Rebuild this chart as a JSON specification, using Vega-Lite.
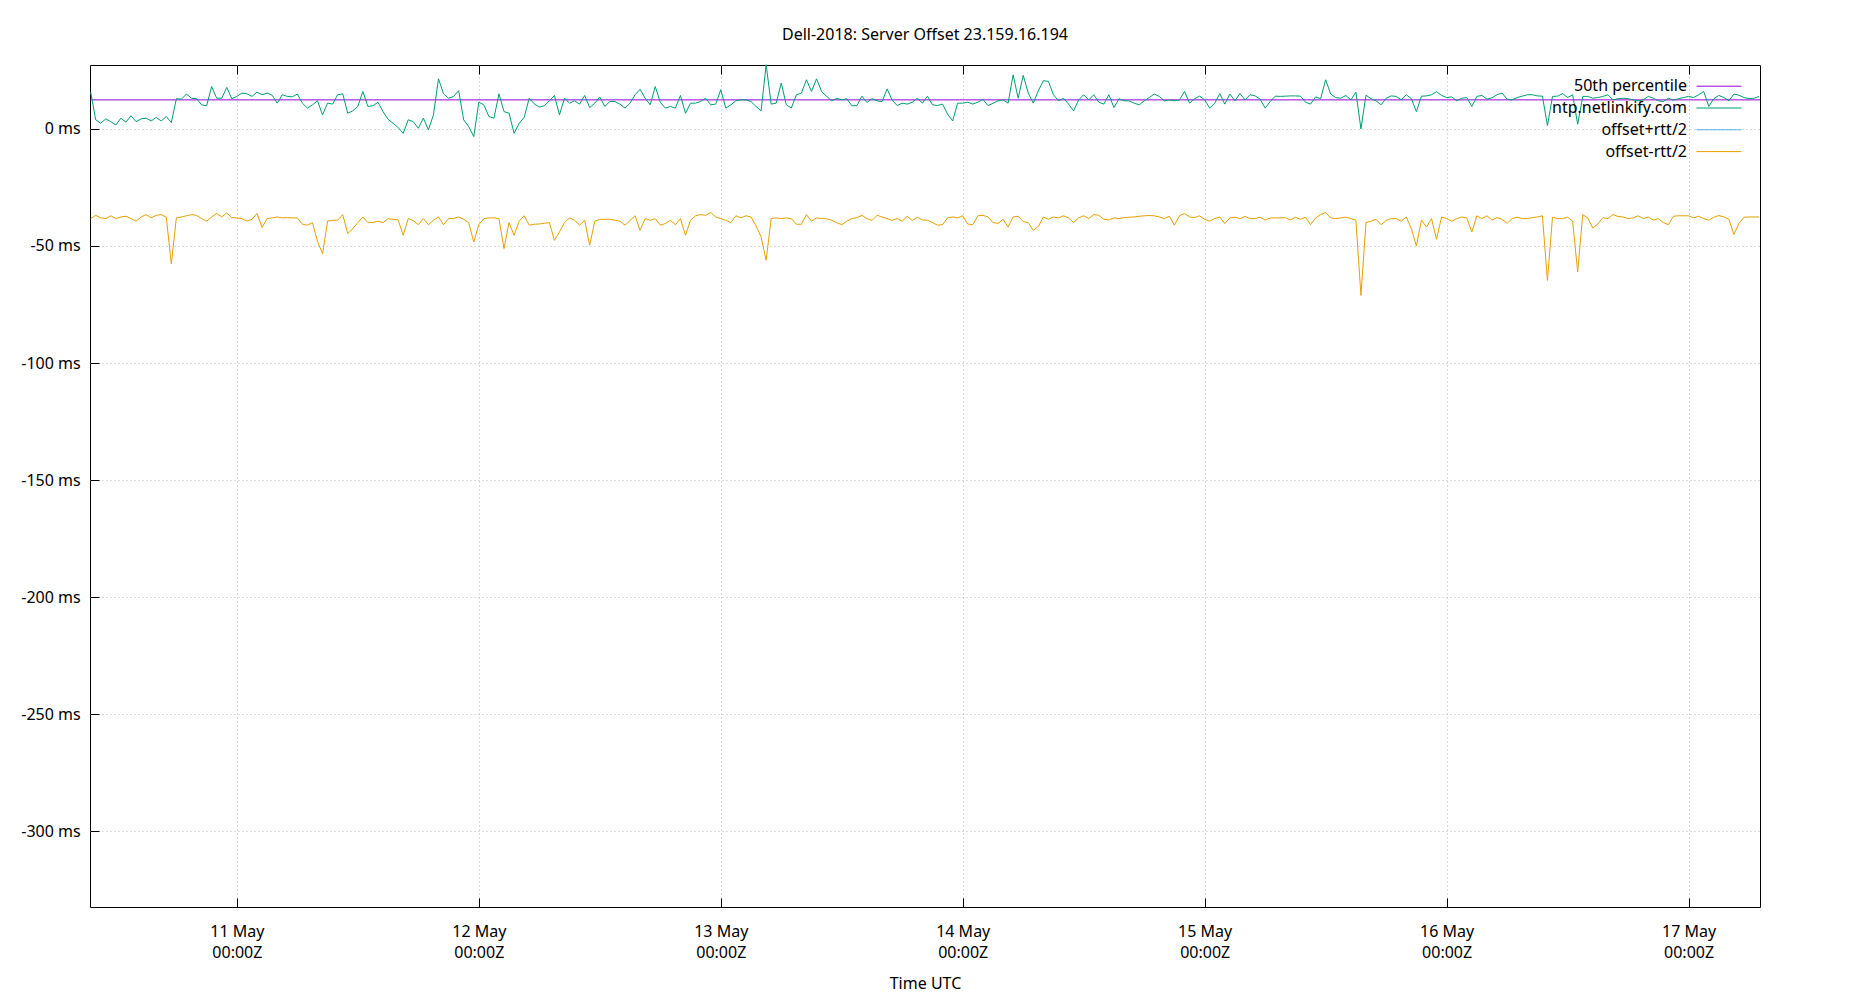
{
"$schema": "https://vega.github.io/schema/vega-lite/v6.json",
"autosize": {"type": "none"},
"padding": {"left": 90, "top": 65, "right": 90, "bottom": 93},
"width": 1670,
"height": 842,
"background": "white",
"title": {"text": "Dell-2018: Server Offset 23.159.16.194", "anchor": "middle", "font": "Noto Sans", "fontSize": 16, "fontWeight": "normal", "color": "black", "offset": 20},
"datasets": {
"p50": [{"p": 12.4}],
"samples": [
{"t":"2024-05-10T09:30Z","g":15.7,"o":-38.3},
{"t":"2024-05-10T10:00Z","g":3.9,"o":-36.9},
{"t":"2024-05-10T10:30Z","g":2.4,"o":-38.0},
{"t":"2024-05-10T11:00Z","g":4.3,"o":-38.3},
{"t":"2024-05-10T11:30Z","g":3.1,"o":-37.1},
{"t":"2024-05-10T12:00Z","g":1.7,"o":-38.3},
{"t":"2024-05-10T12:30Z","g":4.6,"o":-37.6},
{"t":"2024-05-10T13:00Z","g":2.9,"o":-37.3},
{"t":"2024-05-10T13:30Z","g":5.6,"o":-38.3},
{"t":"2024-05-10T14:00Z","g":3.1,"o":-39.4},
{"t":"2024-05-10T14:30Z","g":4.3,"o":-37.6},
{"t":"2024-05-10T15:00Z","g":4.6,"o":-36.6},
{"t":"2024-05-10T15:30Z","g":3.4,"o":-38.0},
{"t":"2024-05-10T16:00Z","g":4.9,"o":-36.9},
{"t":"2024-05-10T16:30Z","g":3.4,"o":-36.6},
{"t":"2024-05-10T17:00Z","g":5.3,"o":-37.7},
{"t":"2024-05-10T17:30Z","g":2.7,"o":-57.6},
{"t":"2024-05-10T18:00Z","g":12.9,"o":-38.0},
{"t":"2024-05-10T18:30Z","g":12.7,"o":-37.6},
{"t":"2024-05-10T19:00Z","g":14.9,"o":-37.1},
{"t":"2024-05-10T19:30Z","g":13.1,"o":-36.6},
{"t":"2024-05-10T20:00Z","g":12.9,"o":-36.9},
{"t":"2024-05-10T20:30Z","g":10.3,"o":-38.3},
{"t":"2024-05-10T21:00Z","g":9.9,"o":-39.4},
{"t":"2024-05-10T21:30Z","g":18.1,"o":-37.6},
{"t":"2024-05-10T22:00Z","g":13.1,"o":-36.1},
{"t":"2024-05-10T22:30Z","g":13.1,"o":-37.6},
{"t":"2024-05-10T23:00Z","g":17.7,"o":-35.9},
{"t":"2024-05-10T23:30Z","g":12.9,"o":-37.9},
{"t":"2024-05-11T00:00Z","g":13.9,"o":-38.0},
{"t":"2024-05-11T00:30Z","g":15.3,"o":-38.3},
{"t":"2024-05-11T01:00Z","g":15.0,"o":-39.4},
{"t":"2024-05-11T01:30Z","g":13.9,"o":-38.6},
{"t":"2024-05-11T02:00Z","g":15.7,"o":-36.1},
{"t":"2024-05-11T02:30Z","g":14.6,"o":-42.1},
{"t":"2024-05-11T03:00Z","g":15.3,"o":-38.3},
{"t":"2024-05-11T03:30Z","g":14.4,"o":-38.0},
{"t":"2024-05-11T04:00Z","g":11.0,"o":-37.6},
{"t":"2024-05-11T04:30Z","g":14.6,"o":-38.0},
{"t":"2024-05-11T05:00Z","g":13.9,"o":-37.9},
{"t":"2024-05-11T05:30Z","g":13.7,"o":-38.0},
{"t":"2024-05-11T06:00Z","g":14.9,"o":-38.0},
{"t":"2024-05-11T06:30Z","g":11.0,"o":-40.7},
{"t":"2024-05-11T07:00Z","g":8.9,"o":-41.1},
{"t":"2024-05-11T07:30Z","g":10.3,"o":-40.0},
{"t":"2024-05-11T08:00Z","g":12.0,"o":-48.0},
{"t":"2024-05-11T08:30Z","g":6.0,"o":-53.3},
{"t":"2024-05-11T09:00Z","g":11.0,"o":-39.4},
{"t":"2024-05-11T09:30Z","g":10.6,"o":-39.0},
{"t":"2024-05-11T10:00Z","g":14.6,"o":-39.0},
{"t":"2024-05-11T10:30Z","g":15.0,"o":-36.6},
{"t":"2024-05-11T11:00Z","g":6.7,"o":-44.7},
{"t":"2024-05-11T11:30Z","g":7.7,"o":-42.6},
{"t":"2024-05-11T12:00Z","g":9.6,"o":-40.0},
{"t":"2024-05-11T12:30Z","g":16.0,"o":-37.6},
{"t":"2024-05-11T13:00Z","g":9.6,"o":-40.0},
{"t":"2024-05-11T13:30Z","g":9.9,"o":-40.0},
{"t":"2024-05-11T14:00Z","g":11.4,"o":-39.4},
{"t":"2024-05-11T14:30Z","g":7.4,"o":-40.0},
{"t":"2024-05-11T15:00Z","g":4.1,"o":-38.3},
{"t":"2024-05-11T15:30Z","g":2.4,"o":-38.6},
{"t":"2024-05-11T16:00Z","g":0.6,"o":-38.9},
{"t":"2024-05-11T16:30Z","g":-1.9,"o":-45.4},
{"t":"2024-05-11T17:00Z","g":3.9,"o":-38.3},
{"t":"2024-05-11T17:30Z","g":3.1,"o":-39.1},
{"t":"2024-05-11T18:00Z","g":0.3,"o":-40.9},
{"t":"2024-05-11T18:30Z","g":4.6,"o":-38.3},
{"t":"2024-05-11T19:00Z","g":-0.4,"o":-40.9},
{"t":"2024-05-11T19:30Z","g":6.0,"o":-39.0},
{"t":"2024-05-11T20:00Z","g":21.4,"o":-37.6},
{"t":"2024-05-11T20:30Z","g":15.0,"o":-40.9},
{"t":"2024-05-11T21:00Z","g":13.1,"o":-38.3},
{"t":"2024-05-11T21:30Z","g":13.9,"o":-38.3},
{"t":"2024-05-11T22:00Z","g":16.3,"o":-37.6},
{"t":"2024-05-11T22:30Z","g":3.9,"o":-38.6},
{"t":"2024-05-11T23:00Z","g":1.0,"o":-40.0},
{"t":"2024-05-11T23:30Z","g":-3.3,"o":-48.3},
{"t":"2024-05-12T00:00Z","g":11.4,"o":-40.9},
{"t":"2024-05-12T00:30Z","g":10.3,"o":-38.3},
{"t":"2024-05-12T01:00Z","g":5.3,"o":-38.0},
{"t":"2024-05-12T01:30Z","g":4.6,"o":-38.0},
{"t":"2024-05-12T02:00Z","g":15.0,"o":-38.3},
{"t":"2024-05-12T02:30Z","g":7.4,"o":-51.1},
{"t":"2024-05-12T03:00Z","g":6.7,"o":-40.0},
{"t":"2024-05-12T03:30Z","g":-1.9,"o":-45.4},
{"t":"2024-05-12T04:00Z","g":2.4,"o":-39.4},
{"t":"2024-05-12T04:30Z","g":4.9,"o":-37.1},
{"t":"2024-05-12T05:00Z","g":13.1,"o":-41.1},
{"t":"2024-05-12T05:30Z","g":10.7,"o":-40.7},
{"t":"2024-05-12T06:00Z","g":9.3,"o":-40.6},
{"t":"2024-05-12T06:30Z","g":9.9,"o":-40.3},
{"t":"2024-05-12T07:00Z","g":12.0,"o":-40.0},
{"t":"2024-05-12T07:30Z","g":14.3,"o":-47.6},
{"t":"2024-05-12T08:00Z","g":6.0,"o":-44.0},
{"t":"2024-05-12T08:30Z","g":13.1,"o":-40.0},
{"t":"2024-05-12T09:00Z","g":11.0,"o":-38.0},
{"t":"2024-05-12T09:30Z","g":12.0,"o":-39.0},
{"t":"2024-05-12T10:00Z","g":10.6,"o":-41.1},
{"t":"2024-05-12T10:30Z","g":14.3,"o":-39.0},
{"t":"2024-05-12T11:00Z","g":9.1,"o":-49.7},
{"t":"2024-05-12T11:30Z","g":11.0,"o":-39.4},
{"t":"2024-05-12T12:00Z","g":13.6,"o":-38.6},
{"t":"2024-05-12T12:30Z","g":9.6,"o":-38.6},
{"t":"2024-05-12T13:00Z","g":11.7,"o":-38.6},
{"t":"2024-05-12T13:30Z","g":11.7,"o":-39.0},
{"t":"2024-05-12T14:00Z","g":10.6,"o":-39.4},
{"t":"2024-05-12T14:30Z","g":8.9,"o":-41.1},
{"t":"2024-05-12T15:00Z","g":11.0,"o":-39.1},
{"t":"2024-05-12T15:30Z","g":14.6,"o":-37.1},
{"t":"2024-05-12T16:00Z","g":16.9,"o":-43.3},
{"t":"2024-05-12T16:30Z","g":13.1,"o":-38.3},
{"t":"2024-05-12T17:00Z","g":10.3,"o":-39.0},
{"t":"2024-05-12T17:30Z","g":18.1,"o":-38.3},
{"t":"2024-05-12T18:00Z","g":11.4,"o":-41.1},
{"t":"2024-05-12T18:30Z","g":8.9,"o":-40.4},
{"t":"2024-05-12T19:00Z","g":9.6,"o":-39.0},
{"t":"2024-05-12T19:30Z","g":8.9,"o":-40.9},
{"t":"2024-05-12T20:00Z","g":14.3,"o":-38.3},
{"t":"2024-05-12T20:30Z","g":6.7,"o":-45.4},
{"t":"2024-05-12T21:00Z","g":11.0,"o":-39.0},
{"t":"2024-05-12T21:30Z","g":11.0,"o":-37.1},
{"t":"2024-05-12T22:00Z","g":11.7,"o":-36.6},
{"t":"2024-05-12T22:30Z","g":13.1,"o":-36.9},
{"t":"2024-05-12T23:00Z","g":10.3,"o":-35.7},
{"t":"2024-05-12T23:30Z","g":10.6,"o":-37.6},
{"t":"2024-05-13T00:00Z","g":16.7,"o":-38.3},
{"t":"2024-05-13T00:30Z","g":8.9,"o":-39.0},
{"t":"2024-05-13T01:00Z","g":10.3,"o":-40.0},
{"t":"2024-05-13T01:30Z","g":12.0,"o":-37.1},
{"t":"2024-05-13T02:00Z","g":12.4,"o":-38.0},
{"t":"2024-05-13T02:30Z","g":12.4,"o":-37.1},
{"t":"2024-05-13T03:00Z","g":11.7,"o":-37.6},
{"t":"2024-05-13T03:30Z","g":9.6,"o":-41.4},
{"t":"2024-05-13T04:00Z","g":7.7,"o":-46.1},
{"t":"2024-05-13T04:30Z","g":27.4,"o":-56.1},
{"t":"2024-05-13T05:00Z","g":10.6,"o":-38.3},
{"t":"2024-05-13T05:30Z","g":11.0,"o":-38.0},
{"t":"2024-05-13T06:00Z","g":19.6,"o":-38.3},
{"t":"2024-05-13T06:30Z","g":10.3,"o":-38.0},
{"t":"2024-05-13T07:00Z","g":8.9,"o":-38.3},
{"t":"2024-05-13T07:30Z","g":14.6,"o":-40.7},
{"t":"2024-05-13T08:00Z","g":15.3,"o":-40.7},
{"t":"2024-05-13T08:30Z","g":21.0,"o":-36.6},
{"t":"2024-05-13T09:00Z","g":16.0,"o":-39.4},
{"t":"2024-05-13T09:30Z","g":21.4,"o":-38.0},
{"t":"2024-05-13T10:00Z","g":16.0,"o":-38.3},
{"t":"2024-05-13T10:30Z","g":13.9,"o":-38.4},
{"t":"2024-05-13T11:00Z","g":12.0,"o":-39.0},
{"t":"2024-05-13T11:30Z","g":13.1,"o":-40.0},
{"t":"2024-05-13T12:00Z","g":12.4,"o":-40.9},
{"t":"2024-05-13T12:30Z","g":12.9,"o":-39.4},
{"t":"2024-05-13T13:00Z","g":9.9,"o":-38.3},
{"t":"2024-05-13T13:30Z","g":9.9,"o":-37.9},
{"t":"2024-05-13T14:00Z","g":14.0,"o":-36.9},
{"t":"2024-05-13T14:30Z","g":11.3,"o":-38.3},
{"t":"2024-05-13T15:00Z","g":12.9,"o":-39.1},
{"t":"2024-05-13T15:30Z","g":12.0,"o":-36.9},
{"t":"2024-05-13T16:00Z","g":11.7,"o":-37.6},
{"t":"2024-05-13T16:30Z","g":17.1,"o":-38.3},
{"t":"2024-05-13T17:00Z","g":12.3,"o":-39.1},
{"t":"2024-05-13T17:30Z","g":10.0,"o":-38.3},
{"t":"2024-05-13T18:00Z","g":11.0,"o":-39.4},
{"t":"2024-05-13T18:30Z","g":10.6,"o":-37.3},
{"t":"2024-05-13T19:00Z","g":11.4,"o":-39.1},
{"t":"2024-05-13T19:30Z","g":13.1,"o":-37.7},
{"t":"2024-05-13T20:00Z","g":11.0,"o":-38.9},
{"t":"2024-05-13T20:30Z","g":14.0,"o":-39.0},
{"t":"2024-05-13T21:00Z","g":10.3,"o":-40.0},
{"t":"2024-05-13T21:30Z","g":10.0,"o":-41.1},
{"t":"2024-05-13T22:00Z","g":10.6,"o":-40.9},
{"t":"2024-05-13T22:30Z","g":6.3,"o":-38.0},
{"t":"2024-05-13T23:00Z","g":3.4,"o":-37.6},
{"t":"2024-05-13T23:30Z","g":11.0,"o":-38.0},
{"t":"2024-05-14T00:00Z","g":11.0,"o":-37.1},
{"t":"2024-05-14T00:30Z","g":11.4,"o":-40.6},
{"t":"2024-05-14T01:00Z","g":10.6,"o":-40.9},
{"t":"2024-05-14T01:30Z","g":11.4,"o":-37.1},
{"t":"2024-05-14T02:00Z","g":12.6,"o":-36.9},
{"t":"2024-05-14T02:30Z","g":10.0,"o":-37.6},
{"t":"2024-05-14T03:00Z","g":10.9,"o":-40.0},
{"t":"2024-05-14T03:30Z","g":12.0,"o":-40.3},
{"t":"2024-05-14T04:00Z","g":12.4,"o":-38.6},
{"t":"2024-05-14T04:30Z","g":11.0,"o":-41.9},
{"t":"2024-05-14T05:00Z","g":23.1,"o":-37.6},
{"t":"2024-05-14T05:30Z","g":13.1,"o":-37.3},
{"t":"2024-05-14T06:00Z","g":22.9,"o":-39.6},
{"t":"2024-05-14T06:30Z","g":15.3,"o":-40.0},
{"t":"2024-05-14T07:00Z","g":11.0,"o":-43.3},
{"t":"2024-05-14T07:30Z","g":16.3,"o":-41.7},
{"t":"2024-05-14T08:00Z","g":20.6,"o":-37.6},
{"t":"2024-05-14T08:30Z","g":20.3,"o":-38.6},
{"t":"2024-05-14T09:00Z","g":14.6,"o":-37.6},
{"t":"2024-05-14T09:30Z","g":12.0,"o":-38.0},
{"t":"2024-05-14T10:00Z","g":13.1,"o":-37.1},
{"t":"2024-05-14T10:30Z","g":10.6,"o":-38.0},
{"t":"2024-05-14T11:00Z","g":7.7,"o":-40.0},
{"t":"2024-05-14T11:30Z","g":12.4,"o":-38.0},
{"t":"2024-05-14T12:00Z","g":14.6,"o":-37.1},
{"t":"2024-05-14T12:30Z","g":12.4,"o":-38.3},
{"t":"2024-05-14T13:00Z","g":14.6,"o":-36.6},
{"t":"2024-05-14T13:30Z","g":11.4,"o":-36.9},
{"t":"2024-05-14T14:00Z","g":10.6,"o":-38.6},
{"t":"2024-05-14T14:30Z","g":14.6,"o":-38.9},
{"t":"2024-05-14T15:00Z","g":9.1,"o":-38.0},
{"t":"2024-05-14T15:30Z","g":12.9,"o":-38.3},
{"t":"2024-05-14T16:00Z","g":12.0,"o":-37.9},
{"t":"2024-05-14T16:30Z","g":12.0,"o":-37.7},
{"t":"2024-05-14T17:00Z","g":11.0,"o":-37.6},
{"t":"2024-05-14T17:30Z","g":10.3,"o":-37.3},
{"t":"2024-05-14T18:00Z","g":12.0,"o":-37.1},
{"t":"2024-05-14T18:30Z","g":13.4,"o":-37.0},
{"t":"2024-05-14T19:00Z","g":14.9,"o":-37.1},
{"t":"2024-05-14T19:30Z","g":13.9,"o":-37.6},
{"t":"2024-05-14T20:00Z","g":12.0,"o":-38.3},
{"t":"2024-05-14T20:30Z","g":12.4,"o":-37.3},
{"t":"2024-05-14T21:00Z","g":12.0,"o":-41.1},
{"t":"2024-05-14T21:30Z","g":12.4,"o":-37.1},
{"t":"2024-05-14T22:00Z","g":16.0,"o":-36.1},
{"t":"2024-05-14T22:30Z","g":11.0,"o":-37.6},
{"t":"2024-05-14T23:00Z","g":12.9,"o":-37.9},
{"t":"2024-05-14T23:30Z","g":14.0,"o":-37.1},
{"t":"2024-05-15T00:00Z","g":12.4,"o":-38.6},
{"t":"2024-05-15T00:30Z","g":8.9,"o":-39.4},
{"t":"2024-05-15T01:00Z","g":11.0,"o":-38.3},
{"t":"2024-05-15T01:30Z","g":15.1,"o":-37.6},
{"t":"2024-05-15T02:00Z","g":10.6,"o":-40.4},
{"t":"2024-05-15T02:30Z","g":14.9,"o":-38.0},
{"t":"2024-05-15T03:00Z","g":12.0,"o":-37.7},
{"t":"2024-05-15T03:30Z","g":15.1,"o":-38.3},
{"t":"2024-05-15T04:00Z","g":12.4,"o":-37.4},
{"t":"2024-05-15T04:30Z","g":14.6,"o":-38.3},
{"t":"2024-05-15T05:00Z","g":14.1,"o":-38.3},
{"t":"2024-05-15T05:30Z","g":12.7,"o":-37.7},
{"t":"2024-05-15T06:00Z","g":8.9,"o":-38.9},
{"t":"2024-05-15T06:30Z","g":11.7,"o":-38.0},
{"t":"2024-05-15T07:00Z","g":14.0,"o":-38.0},
{"t":"2024-05-15T07:30Z","g":13.9,"o":-38.0},
{"t":"2024-05-15T08:00Z","g":14.0,"o":-37.9},
{"t":"2024-05-15T08:30Z","g":14.1,"o":-38.9},
{"t":"2024-05-15T09:00Z","g":14.1,"o":-37.7},
{"t":"2024-05-15T09:30Z","g":14.0,"o":-38.6},
{"t":"2024-05-15T10:00Z","g":11.4,"o":-37.7},
{"t":"2024-05-15T10:30Z","g":10.6,"o":-40.9},
{"t":"2024-05-15T11:00Z","g":13.7,"o":-38.0},
{"t":"2024-05-15T11:30Z","g":12.9,"o":-36.6},
{"t":"2024-05-15T12:00Z","g":21.0,"o":-35.7},
{"t":"2024-05-15T12:30Z","g":14.9,"o":-38.0},
{"t":"2024-05-15T13:00Z","g":13.4,"o":-38.3},
{"t":"2024-05-15T13:30Z","g":13.1,"o":-38.0},
{"t":"2024-05-15T14:00Z","g":14.3,"o":-37.7},
{"t":"2024-05-15T14:30Z","g":12.4,"o":-38.3},
{"t":"2024-05-15T15:00Z","g":15.7,"o":-39.0},
{"t":"2024-05-15T15:30Z","g":0.0,"o":-71.1},
{"t":"2024-05-15T16:00Z","g":14.4,"o":-40.0},
{"t":"2024-05-15T16:30Z","g":12.9,"o":-39.4},
{"t":"2024-05-15T17:00Z","g":12.0,"o":-38.6},
{"t":"2024-05-15T17:30Z","g":10.3,"o":-40.9},
{"t":"2024-05-15T18:00Z","g":13.1,"o":-39.1},
{"t":"2024-05-15T18:30Z","g":14.1,"o":-38.3},
{"t":"2024-05-15T19:00Z","g":13.9,"o":-38.3},
{"t":"2024-05-15T19:30Z","g":12.4,"o":-39.4},
{"t":"2024-05-15T20:00Z","g":14.6,"o":-37.6},
{"t":"2024-05-15T20:30Z","g":12.9,"o":-42.6},
{"t":"2024-05-15T21:00Z","g":7.4,"o":-50.0},
{"t":"2024-05-15T21:30Z","g":14.0,"o":-39.0},
{"t":"2024-05-15T22:00Z","g":14.1,"o":-41.9},
{"t":"2024-05-15T22:30Z","g":14.6,"o":-38.3},
{"t":"2024-05-15T23:00Z","g":15.9,"o":-47.1},
{"t":"2024-05-15T23:30Z","g":14.3,"o":-37.6},
{"t":"2024-05-16T00:00Z","g":13.4,"o":-38.3},
{"t":"2024-05-16T00:30Z","g":13.7,"o":-39.4},
{"t":"2024-05-16T01:00Z","g":12.0,"o":-38.3},
{"t":"2024-05-16T01:30Z","g":13.1,"o":-37.6},
{"t":"2024-05-16T02:00Z","g":13.4,"o":-38.0},
{"t":"2024-05-16T02:30Z","g":9.6,"o":-44.0},
{"t":"2024-05-16T03:00Z","g":13.9,"o":-37.1},
{"t":"2024-05-16T03:30Z","g":14.3,"o":-38.3},
{"t":"2024-05-16T04:00Z","g":12.7,"o":-37.1},
{"t":"2024-05-16T04:30Z","g":13.3,"o":-38.9},
{"t":"2024-05-16T05:00Z","g":14.6,"o":-37.9},
{"t":"2024-05-16T05:30Z","g":15.3,"o":-38.6},
{"t":"2024-05-16T06:00Z","g":12.7,"o":-40.3},
{"t":"2024-05-16T06:30Z","g":12.4,"o":-38.3},
{"t":"2024-05-16T07:00Z","g":13.4,"o":-37.7},
{"t":"2024-05-16T07:30Z","g":14.0,"o":-38.3},
{"t":"2024-05-16T08:00Z","g":14.6,"o":-38.3},
{"t":"2024-05-16T08:30Z","g":14.6,"o":-37.9},
{"t":"2024-05-16T09:00Z","g":14.1,"o":-37.6},
{"t":"2024-05-16T09:30Z","g":14.0,"o":-37.1},
{"t":"2024-05-16T10:00Z","g":1.4,"o":-64.7},
{"t":"2024-05-16T10:30Z","g":13.9,"o":-37.7},
{"t":"2024-05-16T11:00Z","g":14.0,"o":-38.3},
{"t":"2024-05-16T11:30Z","g":15.1,"o":-38.3},
{"t":"2024-05-16T12:00Z","g":13.4,"o":-37.7},
{"t":"2024-05-16T12:30Z","g":14.6,"o":-39.4},
{"t":"2024-05-16T13:00Z","g":2.0,"o":-61.1},
{"t":"2024-05-16T13:30Z","g":13.9,"o":-36.6},
{"t":"2024-05-16T14:00Z","g":13.9,"o":-38.0},
{"t":"2024-05-16T14:30Z","g":13.1,"o":-42.3},
{"t":"2024-05-16T15:00Z","g":13.4,"o":-40.6},
{"t":"2024-05-16T15:30Z","g":13.9,"o":-37.9},
{"t":"2024-05-16T16:00Z","g":14.6,"o":-38.3},
{"t":"2024-05-16T16:30Z","g":12.4,"o":-36.6},
{"t":"2024-05-16T17:00Z","g":12.9,"o":-37.4},
{"t":"2024-05-16T17:30Z","g":13.1,"o":-37.6},
{"t":"2024-05-16T18:00Z","g":12.9,"o":-38.3},
{"t":"2024-05-16T18:30Z","g":12.4,"o":-38.0},
{"t":"2024-05-16T19:00Z","g":12.0,"o":-37.1},
{"t":"2024-05-16T19:30Z","g":12.4,"o":-38.3},
{"t":"2024-05-16T20:00Z","g":13.9,"o":-37.6},
{"t":"2024-05-16T20:30Z","g":13.1,"o":-38.9},
{"t":"2024-05-16T21:00Z","g":12.0,"o":-38.3},
{"t":"2024-05-16T21:30Z","g":11.7,"o":-40.0},
{"t":"2024-05-16T22:00Z","g":13.1,"o":-40.9},
{"t":"2024-05-16T22:30Z","g":12.3,"o":-37.3},
{"t":"2024-05-16T23:00Z","g":12.9,"o":-37.1},
{"t":"2024-05-16T23:30Z","g":13.4,"o":-37.1},
{"t":"2024-05-17T00:00Z","g":13.9,"o":-37.1},
{"t":"2024-05-17T00:30Z","g":13.4,"o":-38.0},
{"t":"2024-05-17T01:00Z","g":14.6,"o":-37.3},
{"t":"2024-05-17T01:30Z","g":16.0,"o":-38.3},
{"t":"2024-05-17T02:00Z","g":9.6,"o":-39.0},
{"t":"2024-05-17T02:30Z","g":12.9,"o":-37.7},
{"t":"2024-05-17T03:00Z","g":14.3,"o":-37.0},
{"t":"2024-05-17T03:30Z","g":13.4,"o":-37.6},
{"t":"2024-05-17T04:00Z","g":12.0,"o":-38.6},
{"t":"2024-05-17T04:30Z","g":14.9,"o":-45.1},
{"t":"2024-05-17T05:00Z","g":14.4,"o":-40.3},
{"t":"2024-05-17T05:30Z","g":13.4,"o":-37.7},
{"t":"2024-05-17T06:00Z","g":12.9,"o":-37.6},
{"t":"2024-05-17T06:30Z","g":13.1,"o":-37.6},
{"t":"2024-05-17T07:00Z","g":13.9,"o":-37.6}
]
},
"layer": [
{
"data": {"name": "p50"},
"mark": {"type": "rule", "strokeWidth": 1},
"encoding": {
"y": {"field": "p", "type": "quantitative", "title": null, "scale": {"domain": [-332.3, 27.3], "nice": false, "zero": false}},
"color": {
"datum": "50th percentile",
"scale": {"domain": ["50th percentile", "ntp.netlinkify.com", "offset+rtt/2", "offset-rtt/2"], "range": ["#9400d3", "#009e73", "#56b4e9", "#e69f00"]},
"legend": {"title": null, "orient": "none", "legendX": 1621, "legendY": 13.2, "direction": "vertical", "symbolType": "M-3,0H3", "symbolSize": 225, "symbolStrokeWidth": 1, "symbolOffset": 0, "symbolOpacity": 1, "labelFont": "Noto Sans", "labelFontSize": 16, "labelColor": "black", "labelAlign": "right", "labelOffset": -40, "labelLimit": 0, "rowPadding": 5.8, "padding": 0,
"encode": {"symbols": {"update": {"stroke": {"scale": "color", "field": "value"}, "strokeWidth": {"value": 1}, "opacity": {"value": 1}, "fill": {"value": "transparent"}}}}}
}
}
},
{
"data": {"name": "samples"},
"mark": {"type": "line", "strokeWidth": 1},
"encoding": {
"x": {"field": "t", "type": "temporal", "scale": {"type": "utc", "domain": [{"year": 2024, "month": 5, "date": 10, "hours": 9, "minutes": 26, "utc": true}, {"year": 2024, "month": 5, "date": 17, "hours": 7, "minutes": 5, "utc": true}]},
"axis": {"orient": "bottom", "title": "Time UTC", "titleY": 76.7, "titleBaseline": "middle", "grid": true, "labelBaseline": "top", "labelLineHeight": 21, "labelPadding": 25.5,
"values": [{"year": 2024, "month": 5, "date": 11, "utc": true}, {"year": 2024, "month": 5, "date": 12, "utc": true}, {"year": 2024, "month": 5, "date": 13, "utc": true}, {"year": 2024, "month": 5, "date": 14, "utc": true}, {"year": 2024, "month": 5, "date": 15, "utc": true}, {"year": 2024, "month": 5, "date": 16, "utc": true}, {"year": 2024, "month": 5, "date": 17, "utc": true}],
"labelExpr": "[utcFormat(datum.value, '%d %b'), utcFormat(datum.value, '%H:%MZ')]"}},
"y": {"field": "g", "type": "quantitative", "title": null, "scale": {"domain": [-332.3, 27.3], "nice": false, "zero": false},
"axis": {"title": null, "values": [0, -50, -100, -150, -200, -250, -300], "labelExpr": "datum.value + ' ms'", "labelPadding": 18.8, "grid": true, "labelBaseline": "middle"}},
"color": {"datum": "ntp.netlinkify.com"}
}
},
{
"data": {"name": "samples"},
"mark": {"type": "line", "strokeWidth": 1},
"encoding": {
"x": {"field": "t", "type": "temporal", "scale": {"type": "utc", "domain": [{"year": 2024, "month": 5, "date": 10, "hours": 9, "minutes": 26, "utc": true}, {"year": 2024, "month": 5, "date": 17, "hours": 7, "minutes": 5, "utc": true}]},
"axis": {"orient": "top", "title": null, "labels": false, "grid": false,
"values": [{"year": 2024, "month": 5, "date": 11, "utc": true}, {"year": 2024, "month": 5, "date": 12, "utc": true}, {"year": 2024, "month": 5, "date": 13, "utc": true}, {"year": 2024, "month": 5, "date": 14, "utc": true}, {"year": 2024, "month": 5, "date": 15, "utc": true}, {"year": 2024, "month": 5, "date": 16, "utc": true}, {"year": 2024, "month": 5, "date": 17, "utc": true}]}},
"y": {"field": "o", "type": "quantitative", "title": null, "scale": {"domain": [-332.3, 27.3], "nice": false, "zero": false}},
"color": {"datum": "offset-rtt/2"}
}
}
],
"resolve": {"axis": {"x": "independent"}},
"config": {
"font": "Noto Sans",
"view": {"stroke": "black", "strokeWidth": 1},
"axis": {"labelFont": "Noto Sans", "labelFontSize": 16, "labelColor": "black", "titleFont": "Noto Sans", "titleFontSize": 16, "titleFontWeight": "normal", "titleColor": "black", "domain": false, "ticks": true, "tickColor": "black", "tickWidth": 1, "tickSize": -9, "gridColor": "#b4b4b4", "gridDash": [1, 3], "gridWidth": 1, "labelFlush": false, "labelOverlap": false, "labelBound": false}
}
}
